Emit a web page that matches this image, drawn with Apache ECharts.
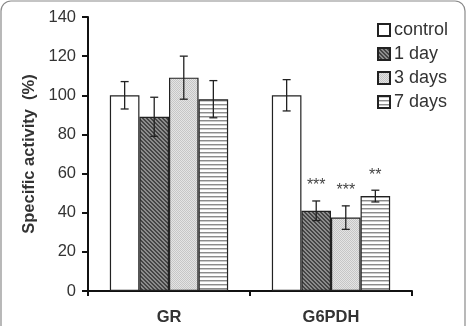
<!DOCTYPE html>
<html><head><meta charset="utf-8">
<script src="https://cdn.jsdelivr.net/npm/echarts@6/dist/echarts.min.js"></script>
<style>html,body{margin:0;padding:0;background:#fff}#c{width:467px;height:326px}</style>
</head><body><div id="c"></div>
<script>
const categories = ['GR', 'G6PDH'];
const seriesNames = ['control', '1 day', '3 days', '7 days'];
const controlVals = [100, 100];
const day1Vals = [89, 41];
const day3Vals = [109, 37.5];
const day7Vals = [98, 48.5];
const controlErr = [7, 8];
const day1Err = [10, 5];
const day3Err = [11, 6];
const day7Err = [9.5, 3];
const signif = [['', ''], ['', '***'], ['', '***'], ['', '**']];
const yTicks = [0, 20, 40, 60, 80, 100, 120, 140];

function pat(kind) {
  const c = document.createElement('canvas');
  const s = kind === 'diag' ? 4 : (kind === 'dot' ? 2 : 4);
  c.width = s; c.height = s;
  const g = c.getContext('2d');
  if (kind === 'diag') {
    g.fillStyle = '#8c8c8c'; g.fillRect(0, 0, s, s);
    g.fillStyle = '#454545';
    for (let i = 0; i < s; i++) { g.fillRect(i, i, 1, 1); g.fillRect((i + 1) % s, i, 1, 1); }
  } else if (kind === 'dot') {
    g.fillStyle = '#e4e4e4'; g.fillRect(0, 0, s, s);
    g.fillStyle = '#c6c6c6'; g.fillRect(0, 0, 1, 1); g.fillRect(1, 1, 1, 1);
  } else {
    g.fillStyle = '#ffffff'; g.fillRect(0, 0, s, s);
    g.fillStyle = '#8c8c8c'; g.fillRect(0, 0, s, 1);
    g.fillStyle = '#cccccc'; g.fillRect(0, 1, s, 1);
  }
  return { image: c, repeat: 'repeat' };
}

const vals = [controlVals, day1Vals, day3Vals, day7Vals];
const errs = [controlErr, day1Err, day3Err, day7Err];
const fills = ['#ffffff', pat('diag'), pat('dot'), pat('hline')];
const catGap = 0.27;
const FONT = '"Liberation Sans", Arial';

const chart = echarts.init(document.getElementById('c'));
const series = [];
vals.forEach((v, i) => {
  series.push({
    name: seriesNames[i], type: 'bar', data: v,
    barGap: '0%', barCategoryGap: (catGap * 100) + '%',
    itemStyle: { color: fills[i], borderColor: '#222', borderWidth: 1.2 },
    emphasis: { disabled: true }
  });
});
const errData = [];
vals.forEach((v, i) => v.forEach((val, j) => errData.push([j, val, errs[i][j], i, signif[i][j]])));
series.push({
  type: 'custom', z: 10, silent: true,
  data: errData,
  encode: { x: 0, y: 1 },
  renderItem: function (params, api) {
    const cat = api.value(0), val = api.value(1), e = api.value(2), si = api.value(3);
    const band = api.size([1, 0])[0];
    const bw = band * (1 - catGap) / 4;
    const center = api.coord([cat, val]);
    const x = center[0] + (si - 1.5) * bw;
    const top = api.coord([cat, val + e])[1];
    const bot = api.coord([cat, val - e])[1];
    const hw = 4;
    const st = { stroke: '#222', lineWidth: 1.3 };
    const children = [
      { type: 'line', shape: { x1: x, y1: top, x2: x, y2: bot }, style: st },
      { type: 'line', shape: { x1: x - hw, y1: top, x2: x + hw, y2: top }, style: st },
      { type: 'line', shape: { x1: x - hw, y1: bot, x2: x + hw, y2: bot }, style: st }
    ];
    const s = errData[params.dataIndex][4];
    if (s) children.push({ type: 'text', style: { text: s, x: x, y: top - 7, align: 'center', verticalAlign: 'bottom', font: '16px ' + FONT, fill: '#444' } });
    return { type: 'group', children: children };
  }
});

chart.setOption({
  animation: false,
  grid: { left: 88, right: 55, top: 17, bottom: 33 },
  graphic: [{ type: 'rect', shape: { x: 1, y: 1, width: 464, height: 360, r: 10 }, style: { fill: 'none', stroke: '#8a8a8a', lineWidth: 1.2 }, z: -1 }],
  legend: {
    orient: 'vertical', left: 372, top: 16, itemWidth: 12, itemHeight: 12, itemGap: 6,
    icon: 'rect', data: seriesNames,
    textStyle: { fontFamily: FONT, fontSize: 18, color: '#333', padding: [0, 0, 0, -1] }
  },
  xAxis: {
    type: 'category', data: categories,
    axisLine: { lineStyle: { color: '#111', width: 2 } },
    axisTick: { show: true, length: 5, lineStyle: { color: '#111', width: 2 } },
    axisLabel: { margin: 18, fontFamily: FONT, fontWeight: 'bold', fontSize: 16.5, color: '#333' }
  },
  yAxis: {
    type: 'value', min: yTicks[0], max: yTicks[yTicks.length - 1], interval: 20,
    name: 'Specific activity  (%)', nameLocation: 'middle', nameGap: 50,
    nameTextStyle: { fontFamily: FONT, fontWeight: 'bold', fontSize: 16.5, color: '#333' },
    axisLine: { show: true, lineStyle: { color: '#111', width: 2 } },
    axisTick: { show: true, length: 6, lineStyle: { color: '#111', width: 2 } },
    axisLabel: { margin: 12, fontFamily: FONT, fontSize: 16.5, color: '#333' },
    splitLine: { show: false }
  },
  series: series
});
</script></body></html>
